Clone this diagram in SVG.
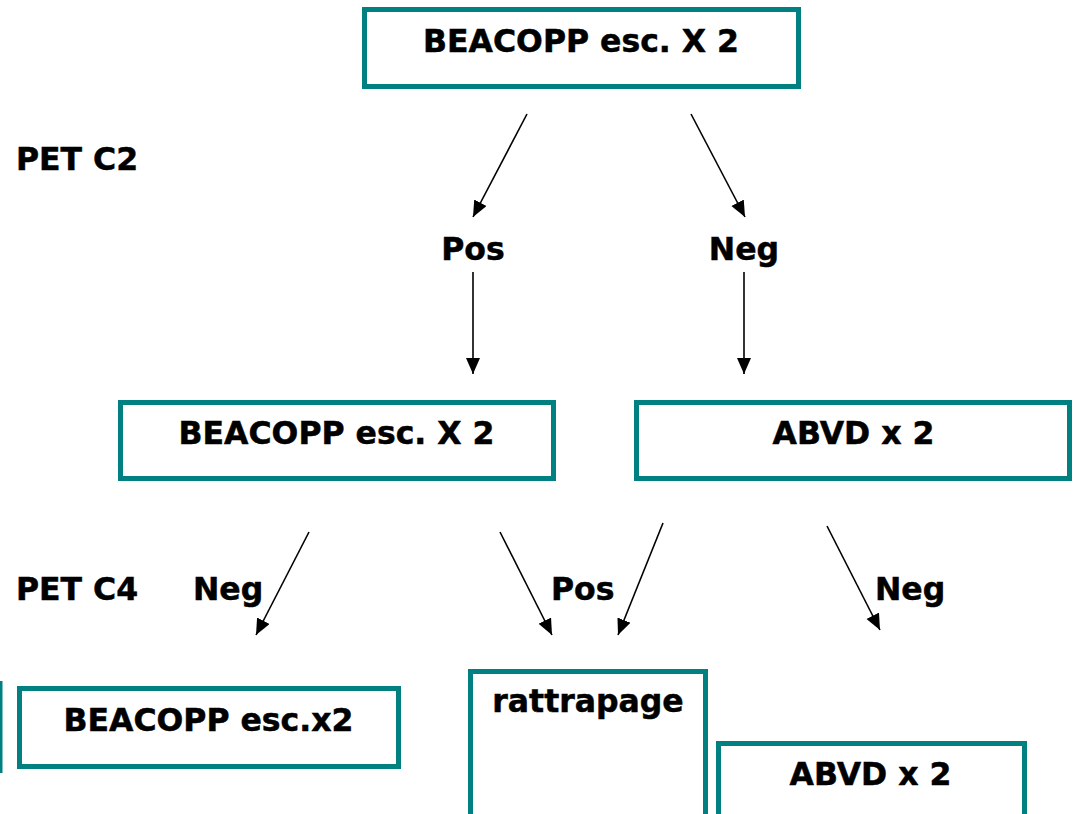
<svg xmlns="http://www.w3.org/2000/svg" width="1074" height="814" viewBox="0 0 1074 814">
  <style>
    .box { fill: #ffffff; stroke: #008080; stroke-width: 5; }
    .lbl { font-family: "DejaVu Sans", Verdana, sans-serif; font-weight: bold; font-size: 31.5px; fill: #000000; stroke: #000000; stroke-width: 0.5; }
    .mid { text-anchor: middle; }
    .conn { stroke: #000000; stroke-width: 1.6; fill: none; marker-end: url(#arrow); }
  </style>
  <defs>
    <marker id="arrow" markerUnits="userSpaceOnUse" markerWidth="18" markerHeight="15" refX="16" refY="7" orient="auto">
      <path d="M0,0 L16,7 L0,14 z" fill="#000000"/>
    </marker>
  </defs>
  <rect width="1074" height="814" fill="#ffffff"/>

  <!-- side labels -->
  <text class="lbl" x="16" y="170">PET C2</text>
  <text class="lbl" x="16" y="600">PET C4</text>

  <g id="start">
    <rect class="box" x="364.5" y="9.5" width="434" height="77"/>
    <text class="lbl mid" x="581" y="52">BEACOPP esc. X 2</text>
  </g>

  <g id="pos-c2">
    <text class="lbl mid" x="473" y="260">Pos</text>
  </g>
  <g id="neg-c2">
    <text class="lbl mid" x="744" y="260">Neg</text>
  </g>

  <g id="beacopp-2">
    <rect class="box" x="120.5" y="402.5" width="433" height="76"/>
    <text class="lbl mid" x="336.5" y="444">BEACOPP esc. X 2</text>
  </g>

  <g id="abvd-2">
    <rect class="box" x="636.5" y="402.5" width="433" height="76"/>
    <text class="lbl mid" x="853.5" y="444">ABVD x 2</text>
  </g>

  <g id="neg-c4-left">
    <text class="lbl" x="193" y="600">Neg</text>
  </g>
  <g id="pos-c4">
    <text class="lbl" x="551" y="600">Pos</text>
  </g>
  <g id="neg-c4-right">
    <text class="lbl" x="875" y="600">Neg</text>
  </g>

  <g id="edge-left">
    <line x1="1" y1="681" x2="1" y2="773" stroke="#008080" stroke-width="3"/>
  </g>

  <g id="beacopp-final">
    <rect class="box" x="19.5" y="688.5" width="379" height="78"/>
    <text class="lbl mid" x="208.5" y="731">BEACOPP esc.x2</text>
  </g>

  <g id="rattrapage">
    <rect class="box" x="470.5" y="671.5" width="235" height="200"/>
    <text class="lbl mid" x="588" y="712">rattrapage</text>
  </g>

  <g id="abvd-final">
    <rect class="box" x="718.5" y="743.5" width="306" height="120"/>
    <text class="lbl mid" x="870.5" y="785">ABVD x 2</text>
  </g>

  <g id="connectors">
    <line class="conn" x1="527" y1="114" x2="473" y2="217"/>
    <line class="conn" x1="691" y1="114" x2="745" y2="217"/>
    <line class="conn" x1="473" y1="272" x2="473" y2="374"/>
    <line class="conn" x1="744" y1="272" x2="744" y2="374"/>
    <line class="conn" x1="309" y1="532" x2="256" y2="635"/>
    <line class="conn" x1="500" y1="532" x2="552" y2="635"/>
    <line class="conn" x1="663" y1="523" x2="618" y2="635"/>
    <line class="conn" x1="827" y1="526" x2="880" y2="630"/>
  </g>
</svg>
